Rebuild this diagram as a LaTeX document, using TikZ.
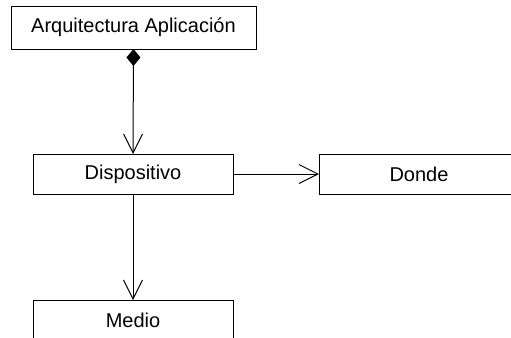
\documentclass[tikz,border=0pt]{standalone}
\usepackage{fontspec}
\setmainfont{Liberation Sans}
\usetikzlibrary{arrows.meta}
\tikzset{
  cls/.style={draw=black, fill=white, line width=0.75pt, inner sep=0pt, outer sep=0pt,
    minimum width=150pt, minimum height=30pt, font=\fontsize{15}{18}\selectfont},
  assoc/.style={draw=black, line width=0.75pt, -{Straight Barb[length=14.25pt, width=14.25pt]}},
  compo/.style={draw=black, line width=0.75pt, {Diamond[length=12.75pt, width=10.5pt, fill=black]}-{Straight Barb[length=14.25pt, width=14.25pt]}}
}
\begin{document}
\begin{tikzpicture}[x=0.75pt, y=-0.75pt]
  \useasboundingbox (0,0) rectangle (511,337);
  \begin{scope}
    \clip (0,0) rectangle (511,337);
    \node[cls, minimum width=183.75pt, minimum height=32.25pt] (arq) at (133.5,27.5) {Arquitectura Aplicación};
    \node[cls] (disp) at (133,174) {Dispositivo};
    \node[cls] (donde) at (419,174) {Donde};
    \node[cls] (medio) at (133,320) {Medio};
    \draw[compo] (arq.south) -- (disp.north);
    \draw[assoc] (disp.east) -- (donde.west);
    \draw[assoc] (disp.south) -- (medio.north);
  \end{scope}
\end{tikzpicture}
\end{document}
